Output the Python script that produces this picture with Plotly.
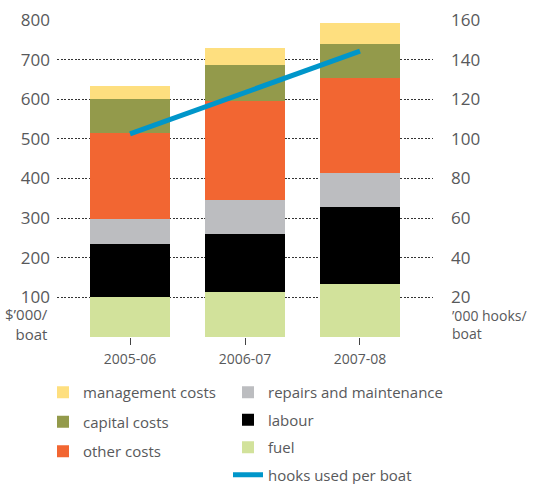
import plotly.graph_objects as go

years = ["2005-06", "2006-07", "2007-08"]
fuel = [102, 113, 133]
labour = [133, 146, 194]
repairs = [64, 86, 86]
other = [217, 250, 241]
capital = [84, 91, 85]
management = [33, 43, 53]
hooks = [102.5, 123.5, 144.3]

left_ticks = [0, 100, 200, 300, 400, 500, 600, 700, 800]
left_text = ["", "100", "200", "300", "400", "500", "600", "700", "800"]
right_ticks = [20, 40, 60, 80, 100, 120, 140, 160]

FONT = "Open Sans"
TXT = "#58595B"

W, H = 534, 484
L, R, T, B = 57, 101, 20, 147
PW, PH = W - L - R, H - T - B


def px(x):
    return (x - L) / PW


def py(y):
    return (H - B - y) / PH


fig = go.Figure()

bar_specs = [
    ("fuel", fuel, "#D2E29B", "legend2", 3),
    ("labour", labour, "#000000", "legend2", 2),
    ("repairs and maintenance", repairs, "#BCBDC0", "legend2", 1),
    ("other costs", other, "#F26632", "legend", 3),
    ("capital costs", capital, "#939A4B", "legend", 2),
    ("management costs", management, "#FEDF7F", "legend", 1),
]
for name, vals, col, lg, rank in bar_specs:
    fig.add_trace(go.Bar(
        x=years, y=vals, name=name, marker=dict(color=col, line=dict(width=0)),
        width=0.7, legend=lg, legendgroup=name, legendrank=rank,
    ))

fig.add_trace(go.Scatter(
    x=years, y=hooks, name="hooks used per boat", mode="lines",
    line=dict(color="#0096CA", width=5), yaxis="y2",
    legend="legend2", legendgroup="hooks", legendrank=4,
))

fig.update_layout(
    width=W, height=H,
    margin=dict(l=L, r=R, t=T, b=B, pad=0, autoexpand=False),
    paper_bgcolor="white", plot_bgcolor="white",
    barmode="stack",
    font=dict(family=FONT, color=TXT, size=15),
    xaxis=dict(
        type="category", categoryorder="array", categoryarray=years,
        range=[-0.635, 2.635], showgrid=False, zeroline=False, showline=False,
        ticks="outside", ticklen=7, tickcolor="#444", tickwidth=1,
        tickfont=dict(size=14, color=TXT), ticklabelstandoff=2, automargin=False,
    ),
    yaxis=dict(
        range=[0, 800], tickvals=left_ticks, ticktext=left_text,
        showgrid=True, gridcolor="#333333", gridwidth=1, griddash="2px,1.5px",
        zeroline=False, showline=False, ticks="", automargin=False,
        tickfont=dict(size=17, color=TXT), ticklabelstandoff=6,
    ),
    yaxis2=dict(
        range=[0, 160], tickvals=right_ticks, overlaying="y", side="right",
        showgrid=False, zeroline=False, showline=False, ticks="", automargin=False,
        tickfont=dict(size=17, color=TXT), ticklabelstandoff=17,
    ),
    legend=dict(
        x=px(43), y=py(376), xanchor="left", yanchor="top",
        traceorder="grouped", tracegroupgap=7,
        font=dict(size=15, color=TXT), bgcolor="rgba(0,0,0,0)",
    ),
    legend2=dict(
        x=px(228), y=py(376), xanchor="left", yanchor="top",
        traceorder="grouped", tracegroupgap=5,
        font=dict(size=15, color=TXT), bgcolor="rgba(0,0,0,0)",
    ),
    showlegend=True,
)

annos = [
    ("$\u2019000/<br>boat", px(50), py(324), "right", "right", 15),
    ("\u2019000 hooks/<br>boat", px(450), py(324), "left", "left", 14),
]
for text, x, y, anchor, align, fs in annos:
    fig.add_annotation(
        text=text, x=x, y=y, xref="paper", yref="paper", xanchor=anchor,
        align=align, yanchor="middle", showarrow=False,
        font=dict(size=fs, color=TXT),
    )

fig.write_html(
    "out.html",
    config={"displayModeBar": False},
    post_script="document.body.style.margin='0px';",
)
